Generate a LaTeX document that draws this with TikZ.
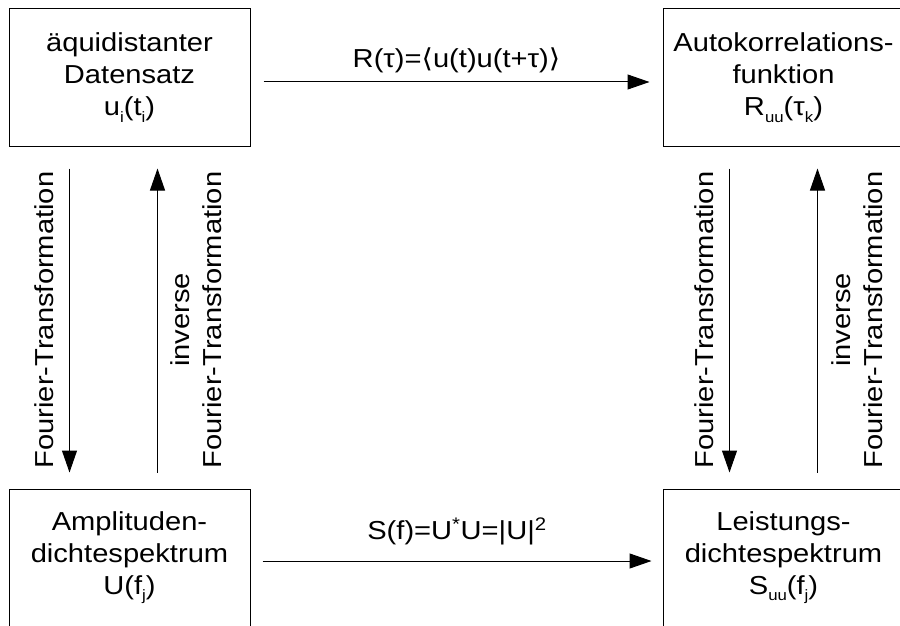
\documentclass[tikz,border=0pt]{standalone}
\usepackage{fontspec}
\setmainfont[FakeStretch=1.12]{Liberation Sans}
\newfontfamily\brfont[FakeStretch=1.12]{DejaVu Sans}
\usetikzlibrary{arrows.meta}
\newcommand{\Sub}[1]{\raisebox{-6.5pt}{\fontsize{15}{15}\selectfont #1}}
\newcommand{\Sup}[1]{\textsuperscript{#1}}

\begin{document}
\begin{tikzpicture}[x=1pt,y=-1pt,
  every node/.style={font=\fontsize{26}{32}\selectfont},
  box/.style={rectangle,draw,line width=1pt,minimum width=241pt,
    minimum height=137pt,align=center,inner sep=0pt},
  arr/.style={line width=1pt,-{Triangle[length=22pt,width=15pt]}},
  lbl/.style={inner sep=0pt}]
\useasboundingbox (0,0) rectangle (900,626);
\clip (0,0) rectangle (900,626);
% the four boxes
\node[box] (daten) at (129.5,77.5) {äquidistanter\\Datensatz\\u\Sub{i}(t\Sub{i})};
\node[box] (akf)   at (783.5,77.5) {Autokorrelations-\\funktion\\R\Sub{uu}(τ\Sub{k})};
\node[box] (ads)   at (129.5,557.5) {Amplituden-\\dichtespektrum\\U(f\Sub{j})};
\node[box] (lds)   at (783.5,557.5) {Leistungs-\\dichtespektrum\\S\Sub{uu}(f\Sub{j})};
% horizontal arrows
\draw[arr] ([xshift=13pt,yshift=-4.5pt]daten.east) -- ([xshift=-13pt,yshift=-4.5pt]akf.west)
  node[midway,above=9pt,lbl]{R(τ)={\brfont ⟨}u(t)u(t+τ){\brfont ⟩}};
\draw[arr] ([xshift=12pt,yshift=-3.5pt]ads.east) -- ([xshift=-11pt,yshift=-3.5pt]lds.west)
  node[midway,above=15pt,lbl]{S(f)=U\Sup{*}U=|U|\Sup{2}};
% vertical arrows, left
\draw[arr] ([xshift=61pt,yshift=-22pt]daten.south west) -- ([xshift=61pt,yshift=16pt]ads.north west);
\draw[arr] ([xshift=149pt,yshift=16pt]ads.north west) -- ([xshift=149pt,yshift=-22pt]daten.south west);
\node[rotate=90,anchor=base,lbl] (ftl) at (53,320) {Fourier-Transformation};
\node[rotate=90,align=center,lbl] (iftl) at (196,320) {inverse\\Fourier-Transformation};
% vertical arrows, right
\draw[arr] ([xshift=67pt,yshift=-22pt]akf.south west) -- ([xshift=67pt,yshift=16pt]lds.north west);
\draw[arr] ([xshift=155pt,yshift=16pt]lds.north west) -- ([xshift=155pt,yshift=-22pt]akf.south west);
\node[rotate=90,anchor=base,lbl] (ftr) at (713,320) {Fourier-Transformation};
\node[rotate=90,align=center,lbl] (iftr) at (857,320) {inverse\\Fourier-Transformation};
\end{tikzpicture}
\end{document}
